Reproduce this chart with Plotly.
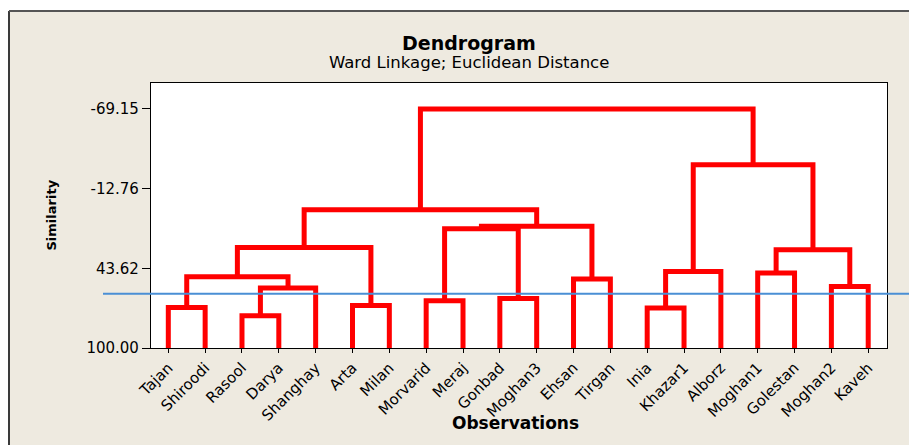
import plotly.graph_objects as go

# ---- data ----
leaves = ["Tajan", "Shiroodi", "Rasool", "Darya", "Shanghay", "Arta", "Milan",
          "Morvarid", "Meraj", "Gonbad", "Moghan3", "Ehsan", "Tirgan", "Inia",
          "Khazar1", "Alborz", "Moghan1", "Golestan", "Moghan2", "Kaveh"]
leaf_similarity = 100.0
# merge steps: cluster ids 0..19 are leaves, 20+ are merged clusters (in order)
merge_left = [2, 13, 0, 5, 7, 9, 20, 18, 11, 22, 16, 21, 30, 29, 24, 34, 33, 31, 36]
merge_right = [3, 14, 1, 6, 8, 10, 4, 19, 12, 26, 17, 15, 27, 23, 25, 28, 35, 32, 37]
merge_similarity = [77.2, 71.7, 71.3, 69.9, 66.6, 64.9, 57.6, 56.5, 51.2, 49.6,
                    47.0, 45.9, 30.5, 28.9, 15.7, 13.9, 2.2, -29.6, -69.15]
cut_similarity = 61.6
y_tick_values = [-69.15, -12.76, 43.62, 100.00]
y_tick_labels = ["-69.15", "-12.76", "43.62", "100.00"]

# ---- build dendrogram segments ----
xpos = {i: float(i) for i in range(len(leaves))}
ypos = {i: leaf_similarity for i in range(len(leaves))}
xs, ys = [], []
for k, (a, b, h) in enumerate(zip(merge_left, merge_right, merge_similarity)):
    cid = len(leaves) + k
    xs += [xpos[a], xpos[a], xpos[b], xpos[b], None]
    ys += [ypos[a], h, h, ypos[b], None]
    xpos[cid] = (xpos[a] + xpos[b]) / 2
    ypos[cid] = h

FONT = "DejaVu Sans"
BEIGE = "#EEEAE0"

fig = go.Figure()
fig.add_trace(go.Scatter(x=xs, y=ys, mode="lines",
                         line=dict(color="#FF0000", width=5),
                         hoverinfo="skip", showlegend=False))

# frame geometry in paper coords (plot area on screen: x 151..887 px, y 83..348 px)
fx = (9 - 151) / 736
fy = (348 - 11) / 265
shapes = [
    dict(type="rect", xref="paper", yref="paper", x0=-0.4, x1=fx, y0=-0.6, y1=1.5,
         fillcolor="white", line=dict(width=0), layer="above"),
    dict(type="rect", xref="paper", yref="paper", x0=-0.4, x1=1.2, y0=fy, y1=1.5,
         fillcolor="white", line=dict(width=0), layer="above"),
    dict(type="line", xref="paper", yref="paper", x0=fx, x1=fx, y0=-0.6, y1=fy,
         line=dict(color="#3a3a3a", width=2), layer="above"),
    dict(type="line", xref="paper", yref="paper", x0=fx, x1=1.2, y0=fy, y1=fy,
         line=dict(color="#555555", width=2), layer="above"),
    dict(type="line", xref="paper", yref="y", x0=(103 - 151) / 736, x1=1.2,
         y0=cut_similarity, y1=cut_similarity,
         line=dict(color="#4A8FD5", width=1.8), layer="above"),
]

annotations = [
    dict(text="<b>Dendrogram</b>", xref="paper", yref="paper",
         x=(469 - 151) / 736, y=(348 - 43) / 265, showarrow=False,
         font=dict(family=FONT, size=19, color="black"), xanchor="center", yanchor="middle"),
    dict(text="Ward Linkage; Euclidean Distance", xref="paper", yref="paper",
         x=(469 - 151) / 736, y=(348 - 62) / 265, showarrow=False,
         font=dict(family=FONT, size=16.5, color="black"), xanchor="center", yanchor="middle"),
    dict(text="<b>Similarity</b>", xref="paper", yref="paper",
         x=(51 - 151) / 736, y=0.5, showarrow=False, textangle=-90,
         font=dict(family=FONT, size=13, color="black"), xanchor="center", yanchor="middle"),
    dict(text="<b>Observations</b>", xref="paper", yref="paper",
         x=(515 - 151) / 736, y=(348 - 423) / 265, showarrow=False,
         font=dict(family=FONT, size=17, color="black"), xanchor="center", yanchor="middle"),
]

# the page body adds an 8 px offset, so the figure is 8 px smaller and margins shifted
fig.update_layout(
    width=909, height=437, autosize=False,
    margin=dict(l=143, r=30, t=75, b=97, pad=0),
    paper_bgcolor=BEIGE, plot_bgcolor="white",
    font=dict(family=FONT, color="black"),
    shapes=shapes, annotations=annotations,
    xaxis=dict(range=[-0.47, 19.51], tickmode="array",
               tickvals=list(range(len(leaves))), ticktext=leaves,
               tickangle=-45, ticks="outside", ticklen=4, tickcolor="black",
               showline=True, linecolor="black", linewidth=1.2, mirror=True,
               showgrid=False, zeroline=False,
               tickfont=dict(family=FONT, size=15, color="black")),
    yaxis=dict(range=[100, -87.5], tickmode="array",
               tickvals=y_tick_values, ticktext=y_tick_labels,
               ticks="outside", ticklen=8, tickcolor="black",
               showline=True, linecolor="black", linewidth=1.2, mirror=True,
               showgrid=False, zeroline=False,
               tickfont=dict(family=FONT, size=15, color="black")),
)

fig.write_html("out.html")
